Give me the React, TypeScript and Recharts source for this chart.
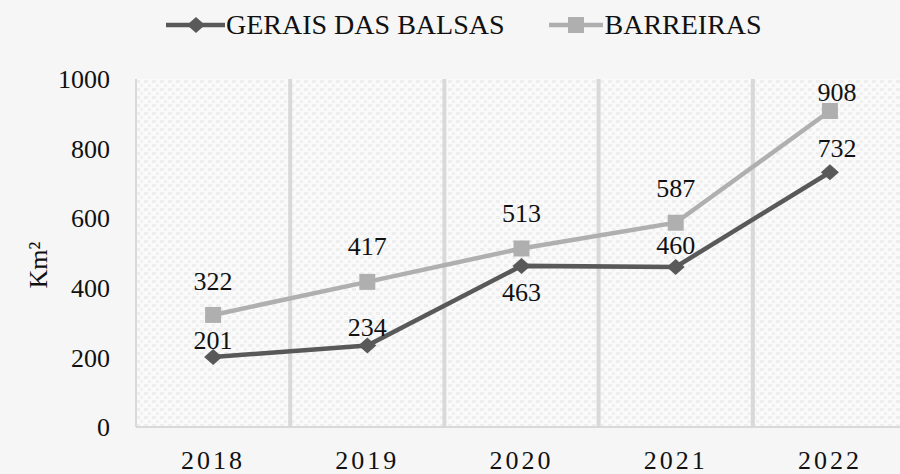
import React from 'react';
import {
  ComposedChart,
  Line,
  XAxis,
  YAxis,
  CartesianGrid,
  ReferenceLine,
  LabelList,
} from 'recharts';

const years = ['2018', '2019', '2020', '2021', '2022'];
const geraisDasBalsas = [201, 234, 463, 460, 732];
const barreiras = [322, 417, 513, 587, 908];
const yTicks = [0, 200, 400, 600, 800, 1000];

const data = years.map((year, i) => ({
  year,
  gerais: geraisDasBalsas[i],
  barreiras: barreiras[i],
}));

const FONT = 'Liberation Serif, Times New Roman, Times, DejaVu Serif, serif';
const DARK = '#595959';
const LIGHT = '#afafaf';
const SEP = '#d9d9d9';

// label centre offsets from the marker (style only)
const geraisShift = [-17, -19, 26, -22, -24];
const barreirasShift = [-34, -36, -36, -35, -19];
const labelNudgeX = [0, 0, 0, 0, 7];

const Diamond = (props: any) => {
  const { cx, cy, index } = props;
  if (cx == null || cy == null) return null;
  return (
    <polygon
      key={`d-${index}`}
      points={`${cx},${cy - 8} ${cx + 9},${cy} ${cx},${cy + 8} ${cx - 9},${cy}`}
      fill={DARK}
    />
  );
};

const Square = (props: any) => {
  const { cx, cy, index } = props;
  if (cx == null || cy == null) return null;
  return <rect key={`s-${index}`} x={cx - 8} y={cy - 8} width={16} height={16} fill={LIGHT} />;
};

const makeLabel = (shift: number[]) => (props: any) => {
  const { x, y, value, index } = props;
  return (
    <text
      x={x + labelNudgeX[index]}
      y={y + shift[index]}
      dy="0.355em"
      textAnchor="middle"
      style={{ fontFamily: FONT }}
      fontSize={26}
      fill="#111"
    >
      {value}
    </text>
  );
};

const YLabel = (props: any) => {
  const { viewBox } = props;
  const cx = viewBox.x + 38;
  const cy = viewBox.y + viewBox.height / 2 + 12;
  return (
    <text
      x={cx}
      y={cy}
      transform={`rotate(-90 ${cx} ${cy})`}
      textAnchor="middle"
      dy="0.355em"
      style={{ fontFamily: FONT }}
      fontSize={26}
      fill="#111"
    >
      Km²
    </text>
  );
};

const Legend = () => (
  <div
    style={{
      position: 'absolute',
      top: 9,
      left: 166,
      display: 'flex',
      alignItems: 'center',
      fontFamily: FONT,
      fontSize: 28,
      color: '#111',
      whiteSpace: 'nowrap',
    }}
  >
    <svg width={59} height={30}>
      <line x1={0} y1={15} x2={59} y2={15} stroke={DARK} strokeWidth={4.5} />
      <polygon points="30,7 39,15 30,23 21,15" fill={DARK} />
    </svg>
    <span style={{ marginLeft: 1 }}>GERAIS DAS BALSAS</span>
    <svg width={54} height={30} style={{ marginLeft: 44 }}>
      <line x1={0} y1={15} x2={54} y2={15} stroke={LIGHT} strokeWidth={4.5} />
      <rect x={19} y={7} width={16} height={16} fill={LIGHT} />
    </svg>
    <span style={{ marginLeft: 2 }}>BARREIRAS</span>
  </div>
);

export default function App() {
  return (
    <div
      style={{
        position: 'absolute',
        top: 0,
        left: 0,
        width: 900,
        height: 474,
        overflow: 'hidden',
        background: '#f6f6f6',
        fontFamily: FONT,
      }}
    >
      <Legend />
      <ComposedChart
        width={907}
        height={474}
        data={data}
        margin={{ top: 79, right: 0, bottom: 0, left: 0 }}
        style={{ fontFamily: FONT }}
      >
        <defs>
          <pattern id="dots" width="8" height="8" patternUnits="userSpaceOnUse">
            <rect width="8" height="8" fill="#fafafa" />
            <rect x="0" y="0" width="4" height="3" fill="#eeeeee" />
            <rect x="4" y="4" width="3" height="3" fill="#f0f0f0" />
          </pattern>
        </defs>
        <CartesianGrid horizontal={false} vertical={false} fill="url(#dots)" />
        <XAxis
          dataKey="year"
          scale="band"
          height={47}
          tickLine={false}
          tickMargin={18}
          axisLine={{ stroke: SEP, strokeWidth: 2 }}
          tick={{ fontSize: 26, fill: '#111', letterSpacing: 3, style: { fontFamily: FONT } }}
        />
        <YAxis
          width={136}
          domain={[0, 1000]}
          ticks={yTicks}
          tickLine={false}
          tickMargin={20}
          axisLine={{ stroke: SEP, strokeWidth: 2 }}
          tick={{ fontSize: 26, fill: '#111', style: { fontFamily: FONT } }}
          label={<YLabel />}
        />
        {years.slice(1).map((y) => (
          <ReferenceLine key={y} x={y} position="start" stroke={SEP} strokeWidth={4} />
        ))}
        <Line
          dataKey="barreiras"
          stroke={LIGHT}
          strokeWidth={4.5}
          dot={<Square />}
          activeDot={false}
          isAnimationActive={false}
        >
          <LabelList dataKey="barreiras" content={makeLabel(barreirasShift)} />
        </Line>
        <Line
          dataKey="gerais"
          stroke={DARK}
          strokeWidth={4.5}
          dot={<Diamond />}
          activeDot={false}
          isAnimationActive={false}
        >
          <LabelList dataKey="gerais" content={makeLabel(geraisShift)} />
        </Line>
      </ComposedChart>
    </div>
  );
}
